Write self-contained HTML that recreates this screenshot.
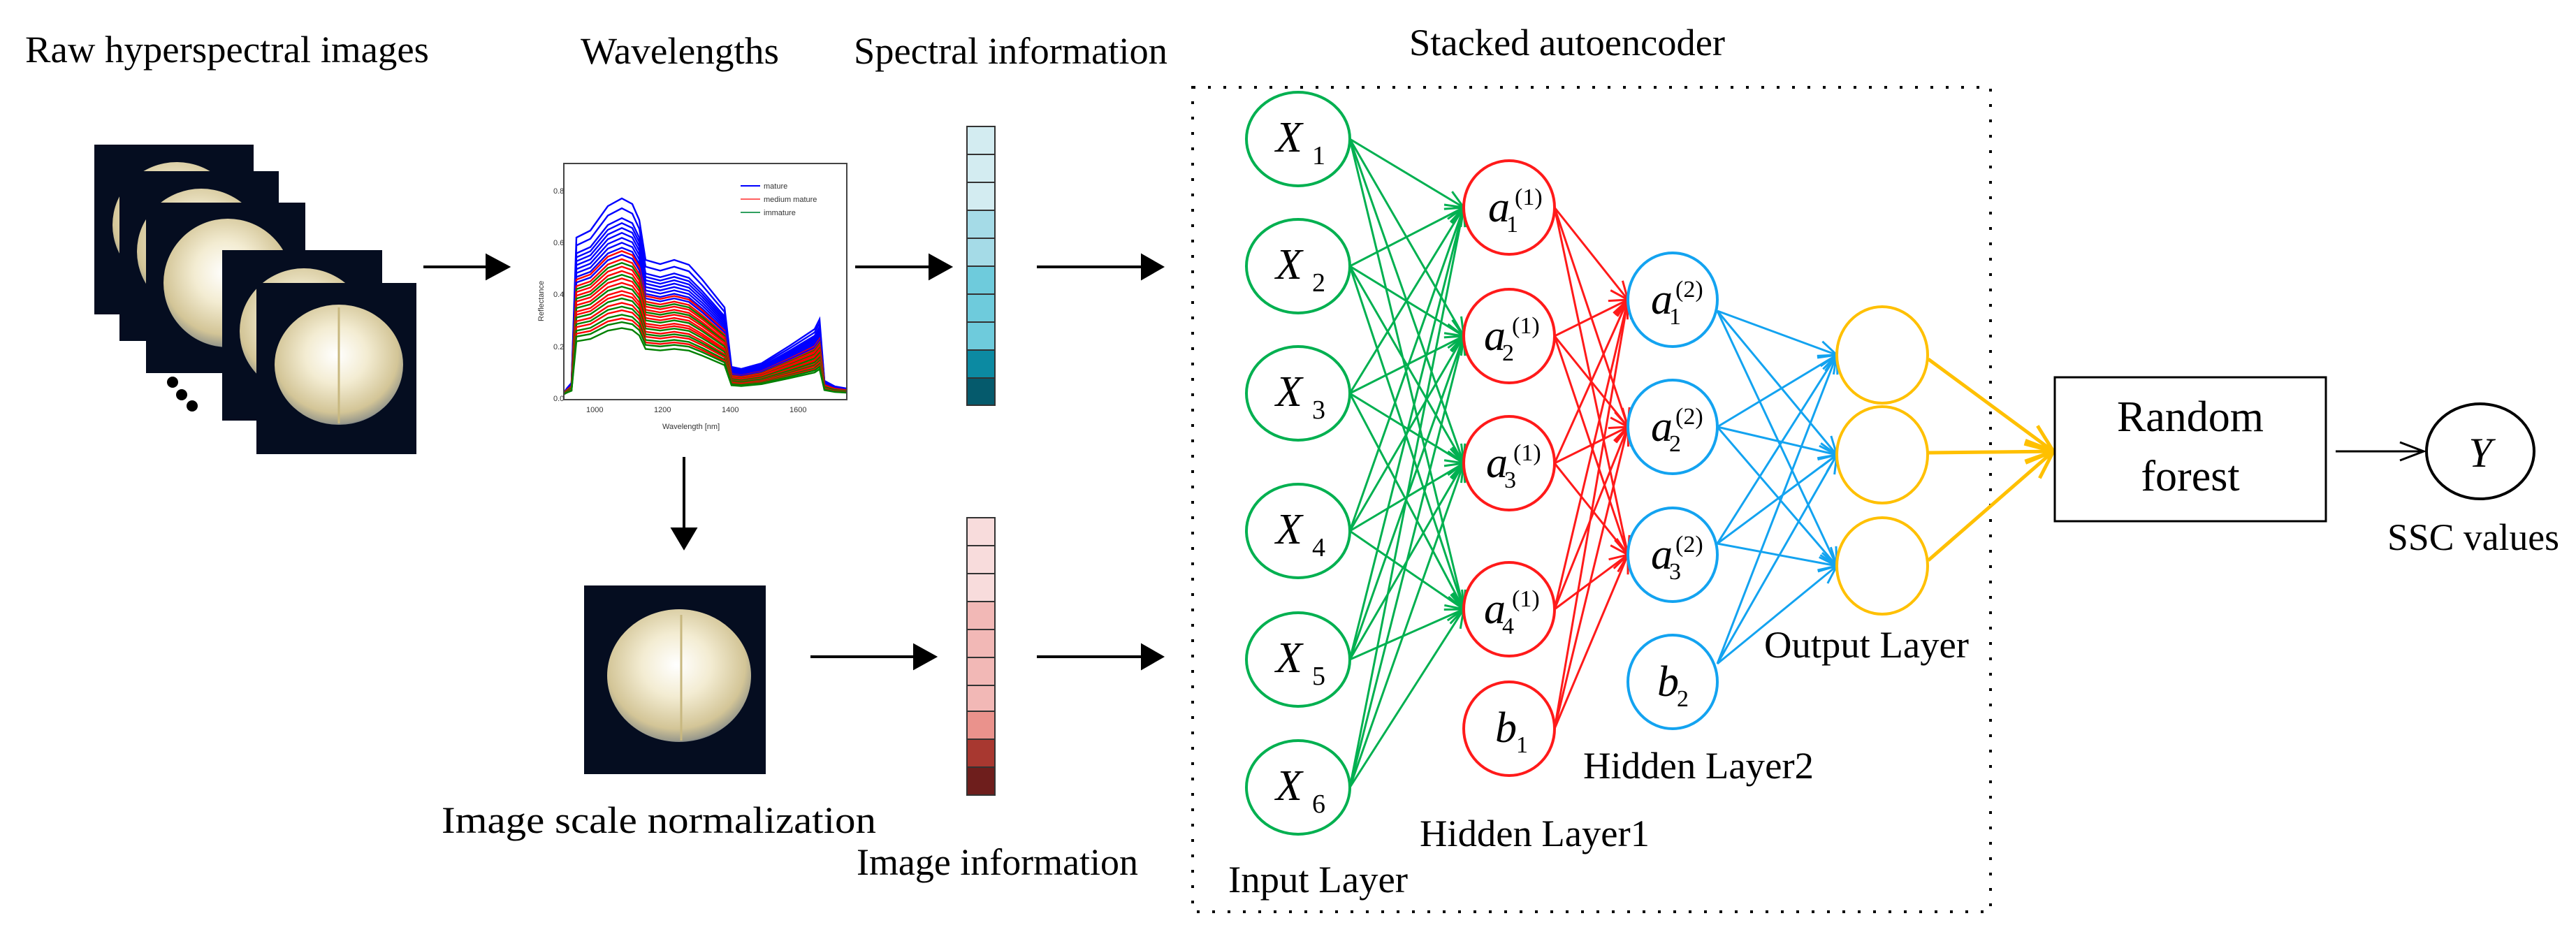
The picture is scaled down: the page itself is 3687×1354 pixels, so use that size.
<!DOCTYPE html>
<html><head><meta charset="utf-8"><style>html,body{margin:0;padding:0;background:#fff}svg{display:block}</style></head><body>
<svg width="3687" height="1354" viewBox="0 0 3687 1354" xmlns="http://www.w3.org/2000/svg" font-family="'Liberation Serif', serif">
<defs>
<radialGradient id="fr" cx="0.48" cy="0.42" r="0.6">
<stop offset="0" stop-color="#ffffff"/><stop offset="0.4" stop-color="#f3ecd2"/><stop offset="0.8" stop-color="#d3c597"/><stop offset="0.95" stop-color="#9a9a8c"/><stop offset="1" stop-color="#5d6a80"/></radialGradient>
<marker id="mg" markerUnits="userSpaceOnUse" markerWidth="40" markerHeight="40" refX="30" refY="20" orient="auto"><path d="M4,9 L30,20 L4,31" fill="none" stroke="#00b050" stroke-width="3"/></marker>
<marker id="mr" markerUnits="userSpaceOnUse" markerWidth="40" markerHeight="40" refX="30" refY="20" orient="auto"><path d="M4,9 L30,20 L4,31" fill="none" stroke="#ff1a1a" stroke-width="3"/></marker>
<marker id="mb" markerUnits="userSpaceOnUse" markerWidth="40" markerHeight="40" refX="30" refY="20" orient="auto"><path d="M4,9 L30,20 L4,31" fill="none" stroke="#13a3f0" stroke-width="3"/></marker>
<marker id="my" markerUnits="userSpaceOnUse" markerWidth="60" markerHeight="60" refX="45" refY="30" orient="auto"><path d="M5,14 L45,30 L5,46" fill="none" stroke="#ffc000" stroke-width="5"/></marker>
<marker id="mk" markerUnits="userSpaceOnUse" markerWidth="50" markerHeight="50" refX="40" refY="25" orient="auto"><path d="M6,12 L40,25 L6,38" fill="none" stroke="#000" stroke-width="3"/></marker>
<path id="cv" d="M807,562 L812,555 L818,548 L825,340 L845,330 L870,295 L890,284 L905,292 L915,315 L924,372 L945,378 L965,372 L986,379 L1005,400 L1037,440 L1047,525 L1061,528 L1090,520 L1130,495 L1166,471 L1173,457 L1180,545 L1195,553 L1212,556" fill="none" vector-effect="non-scaling-stroke"/>
</defs>

<g font-size="54" fill="#000">
<text x="36" y="89" textLength="578" lengthAdjust="spacingAndGlyphs">Raw hyperspectral images</text>
<text x="831" y="91" textLength="284" lengthAdjust="spacingAndGlyphs">Wavelengths</text>
<text x="1222" y="91" textLength="449" lengthAdjust="spacingAndGlyphs">Spectral information</text>
<text x="2017" y="79" textLength="452" lengthAdjust="spacingAndGlyphs">Stacked autoencoder</text>
<text x="632" y="1192" textLength="622" lengthAdjust="spacingAndGlyphs">Image scale normalization</text>
<text x="1226" y="1252" textLength="403" lengthAdjust="spacingAndGlyphs">Image information</text>
<text x="1758" y="1277" textLength="257" lengthAdjust="spacingAndGlyphs">Input Layer</text>
<text x="2032" y="1211" textLength="329" lengthAdjust="spacingAndGlyphs">Hidden Layer1</text>
<text x="2266" y="1114" textLength="330" lengthAdjust="spacingAndGlyphs">Hidden Layer2</text>
<text x="2525" y="941" textLength="293" lengthAdjust="spacingAndGlyphs">Output Layer</text>
<text x="3417" y="787" textLength="246" lengthAdjust="spacingAndGlyphs">SSC values</text>
</g>

<g>
<rect x="135" y="207" width="228" height="243" fill="#050d20"/><ellipse cx="253" cy="322" rx="92" ry="90" fill="url(#fr)"/>
<rect x="171" y="245" width="228" height="243" fill="#050d20"/><ellipse cx="288" cy="360" rx="92" ry="90" fill="url(#fr)"/>
<rect x="209" y="290" width="228" height="244" fill="#050d20"/><ellipse cx="326" cy="405" rx="92" ry="92" fill="url(#fr)"/>
<rect x="318" y="358" width="229" height="244" fill="#050d20"/><ellipse cx="435" cy="474" rx="92" ry="90" fill="url(#fr)"/>
<rect x="367" y="405" width="229" height="245" fill="#050d20"/><ellipse cx="485" cy="522" rx="92" ry="86" fill="url(#fr)"/>
<line x1="485" y1="440" x2="485" y2="606" stroke="#c8b880" stroke-width="3"/>
<circle cx="247" cy="547" r="8"/><circle cx="260" cy="565" r="8"/><circle cx="275" cy="581" r="8"/>
</g>

<g>
<rect x="807" y="234" width="405" height="338" fill="#fff" stroke="#444" stroke-width="2"/>
<g stroke-width="2.4">
<use href="#cv" stroke="#0000ff"/>
<use href="#cv" stroke="#0000ff" transform="translate(0,28.3) scale(1,0.95)"/>
<use href="#cv" stroke="#0000ff" transform="translate(0,56.6) scale(1,0.9)"/>
<use href="#cv" stroke="#0000ff" transform="translate(0,70.8) scale(1,0.875)"/>
<use href="#cv" stroke="#0000ff" transform="translate(0,84.9) scale(1,0.85)"/>
<use href="#cv" stroke="#0000ff" transform="translate(0,99) scale(1,0.825)"/>
<use href="#cv" stroke="#0000ff" transform="translate(0,113.2) scale(1,0.8)"/>
<use href="#cv" stroke="#0000ff" transform="translate(0,127.3) scale(1,0.775)"/>
<use href="#cv" stroke="#0000ff" transform="translate(0,141.5) scale(1,0.75)"/>
<use href="#cv" stroke="#ff0000" transform="translate(0,152) scale(1,0.73)"/>
<use href="#cv" stroke="#0000ff" transform="translate(0,163) scale(1,0.71)"/>
<use href="#cv" stroke="#ff0000" transform="translate(0,175) scale(1,0.69)"/>
<use href="#cv" stroke="#008000" transform="translate(0,186) scale(1,0.67)"/>
<use href="#cv" stroke="#ff0000" transform="translate(0,197) scale(1,0.65)"/>
<use href="#cv" stroke="#ff0000" transform="translate(0,209) scale(1,0.63)"/>
<use href="#cv" stroke="#008000" transform="translate(0,220) scale(1,0.61)"/>
<use href="#cv" stroke="#ff0000" transform="translate(0,231) scale(1,0.59)"/>
<use href="#cv" stroke="#ff0000" transform="translate(0,243) scale(1,0.57)"/>
<use href="#cv" stroke="#008000" transform="translate(0,254) scale(1,0.55)"/>
<use href="#cv" stroke="#ff0000" transform="translate(0,266) scale(1,0.53)"/>
<use href="#cv" stroke="#ff0000" transform="translate(0,277) scale(1,0.51)"/>
<use href="#cv" stroke="#008000" transform="translate(0,288) scale(1,0.49)"/>
<use href="#cv" stroke="#ff0000" transform="translate(0,300) scale(1,0.47)"/>
<use href="#cv" stroke="#008000" transform="translate(0,311) scale(1,0.45)"/>
<use href="#cv" stroke="#ff0000" transform="translate(0,322) scale(1,0.43)"/>
<use href="#cv" stroke="#008000" transform="translate(0,334) scale(1,0.41)"/>
<use href="#cv" stroke="#ff0000" transform="translate(0,345) scale(1,0.39)"/>
<use href="#cv" stroke="#008000" transform="translate(0,356) scale(1,0.37)"/>
<use href="#cv" stroke="#008000" transform="translate(0,373) scale(1,0.34)"/>
</g>
<line x1="1060" y1="266" x2="1088" y2="266" stroke="#0000ff" stroke-width="2"/>
<line x1="1060" y1="285" x2="1088" y2="285" stroke="#ff6060" stroke-width="2"/>
<line x1="1060" y1="304" x2="1088" y2="304" stroke="#30a060" stroke-width="2"/>
<g font-family="'Liberation Sans', sans-serif" font-size="11" fill="#333">
<text x="1093" y="270">mature</text><text x="1093" y="289">medium mature</text><text x="1093" y="308">immature</text>
<text x="839" y="590">1000</text><text x="936" y="590">1200</text><text x="1033" y="590">1400</text><text x="1130" y="590">1600</text>
<text x="948" y="614">Wavelength [nm]</text>
<text x="792" y="574">0.0</text><text x="792" y="500">0.2</text><text x="792" y="425">0.4</text><text x="792" y="351">0.6</text><text x="792" y="277">0.8</text>
<text transform="translate(778,460) rotate(-90)">Reflectance</text>
</g>
</g>
<rect x="807" y="234" width="405" height="338" fill="none" stroke="#444" stroke-width="2"/>

<rect x="836" y="838" width="260" height="270" fill="#050d20"/>
<ellipse cx="972" cy="967" rx="103" ry="95" fill="url(#fr)"/>
<line x1="975" y1="880" x2="975" y2="1060" stroke="#c8b880" stroke-width="3"/>

<g stroke="#000" stroke-width="4" fill="#000">
<line x1="606" y1="382" x2="700" y2="382"/><path d="M697,366 L727,382 L697,398Z"/>
<line x1="1224" y1="382" x2="1334" y2="382"/><path d="M1331,366 L1360,382 L1331,398Z"/>
<line x1="1484" y1="382" x2="1638" y2="382"/><path d="M1635,366 L1663,382 L1635,398Z"/>
<line x1="1160" y1="940" x2="1312" y2="940"/><path d="M1309,924 L1338,940 L1309,956Z"/>
<line x1="1484" y1="940" x2="1638" y2="940"/><path d="M1635,924 L1663,940 L1635,956Z"/>
<line x1="979" y1="654" x2="979" y2="760"/><path d="M963,757 L979,784 L995,757Z"/>
</g>

<g stroke="#333" stroke-width="2">
<rect x="1384" y="181" width="40" height="40" fill="#d3ecf1"/><rect x="1384" y="221" width="40" height="40" fill="#d3ecf1"/><rect x="1384" y="261" width="40" height="40" fill="#d3ecf1"/>
<rect x="1384" y="301" width="40" height="40" fill="#a5dbe7"/><rect x="1384" y="341" width="40" height="40" fill="#a5dbe7"/>
<rect x="1384" y="381" width="40" height="40" fill="#6ecbdc"/><rect x="1384" y="421" width="40" height="40" fill="#6ecbdc"/><rect x="1384" y="461" width="40" height="40" fill="#6ecbdc"/>
<rect x="1384" y="501" width="40" height="40" fill="#0c8aa2"/><rect x="1384" y="541" width="40" height="39" fill="#055a6c"/>
<rect x="1384" y="741" width="40" height="40" fill="#f8dcdc"/><rect x="1384" y="781" width="40" height="40" fill="#f8dcdc"/><rect x="1384" y="821" width="40" height="40" fill="#f8dcdc"/>
<rect x="1384" y="861" width="40" height="40" fill="#f2b8b6"/><rect x="1384" y="901" width="40" height="40" fill="#f2b8b6"/><rect x="1384" y="941" width="40" height="40" fill="#f2b8b6"/><rect x="1384" y="981" width="40" height="37" fill="#f2b8b6"/>
<rect x="1384" y="1018" width="40" height="40" fill="#ea928c"/><rect x="1384" y="1058" width="40" height="40" fill="#a83830"/><rect x="1384" y="1098" width="40" height="40" fill="#6e1e1c"/>
</g>

<rect x="1707" y="125" width="1142" height="1180" fill="none" stroke="#000" stroke-width="4" stroke-dasharray="4 18"/>

<g stroke="#00b050" stroke-width="3" marker-end="url(#mg)">
<line x1="1932" y1="199" x2="2095" y2="297"/><line x1="1932" y1="199" x2="2095" y2="481"/><line x1="1932" y1="199" x2="2095" y2="663"/><line x1="1932" y1="199" x2="2095" y2="872"/>
<line x1="1932" y1="381" x2="2095" y2="297"/><line x1="1932" y1="381" x2="2095" y2="481"/><line x1="1932" y1="381" x2="2095" y2="663"/><line x1="1932" y1="381" x2="2095" y2="872"/>
<line x1="1932" y1="563" x2="2095" y2="297"/><line x1="1932" y1="563" x2="2095" y2="481"/><line x1="1932" y1="563" x2="2095" y2="663"/><line x1="1932" y1="563" x2="2095" y2="872"/>
<line x1="1932" y1="760" x2="2095" y2="297"/><line x1="1932" y1="760" x2="2095" y2="481"/><line x1="1932" y1="760" x2="2095" y2="663"/><line x1="1932" y1="760" x2="2095" y2="872"/>
<line x1="1932" y1="944" x2="2095" y2="297"/><line x1="1932" y1="944" x2="2095" y2="481"/><line x1="1932" y1="944" x2="2095" y2="663"/><line x1="1932" y1="944" x2="2095" y2="872"/>
<line x1="1932" y1="1127" x2="2095" y2="297"/><line x1="1932" y1="1127" x2="2095" y2="481"/><line x1="1932" y1="1127" x2="2095" y2="663"/><line x1="1932" y1="1127" x2="2095" y2="872"/>
</g>
<g stroke="#ff1a1a" stroke-width="3" marker-end="url(#mr)">
<line x1="2225" y1="297" x2="2330" y2="429"/><line x1="2225" y1="297" x2="2330" y2="611"/><line x1="2225" y1="297" x2="2330" y2="794"/>
<line x1="2225" y1="481" x2="2330" y2="429"/><line x1="2225" y1="481" x2="2330" y2="611"/><line x1="2225" y1="481" x2="2330" y2="794"/>
<line x1="2225" y1="663" x2="2330" y2="429"/><line x1="2225" y1="663" x2="2330" y2="611"/><line x1="2225" y1="663" x2="2330" y2="794"/>
<line x1="2225" y1="872" x2="2330" y2="429"/><line x1="2225" y1="872" x2="2330" y2="611"/><line x1="2225" y1="872" x2="2330" y2="794"/>
<line x1="2225" y1="1043" x2="2330" y2="429"/><line x1="2225" y1="1043" x2="2330" y2="611"/><line x1="2225" y1="1043" x2="2330" y2="794"/>
</g>
<g stroke="#13a3f0" stroke-width="3" marker-end="url(#mb)">
<line x1="2458" y1="445" x2="2629" y2="508"/><line x1="2458" y1="445" x2="2629" y2="651"/><line x1="2458" y1="445" x2="2629" y2="810"/>
<line x1="2458" y1="611" x2="2629" y2="508"/><line x1="2458" y1="611" x2="2629" y2="651"/><line x1="2458" y1="611" x2="2629" y2="810"/>
<line x1="2458" y1="778" x2="2629" y2="508"/><line x1="2458" y1="778" x2="2629" y2="651"/><line x1="2458" y1="778" x2="2629" y2="810"/>
<line x1="2458" y1="950" x2="2629" y2="508"/><line x1="2458" y1="950" x2="2629" y2="651"/><line x1="2458" y1="950" x2="2629" y2="810"/>
</g>
<g stroke="#ffc000" stroke-width="5" marker-end="url(#my)">
<line x1="2760" y1="514" x2="2939" y2="646"/><line x1="2760" y1="648" x2="2939" y2="646"/><line x1="2760" y1="802" x2="2939" y2="646"/>
</g>

<g fill="#fff" stroke-width="4">
<g stroke="#00b050">
<ellipse cx="1858" cy="199" rx="74" ry="67"/><ellipse cx="1858" cy="381" rx="74" ry="67"/><ellipse cx="1858" cy="563" rx="74" ry="67"/>
<ellipse cx="1858" cy="760" rx="74" ry="67"/><ellipse cx="1858" cy="944" rx="74" ry="67"/><ellipse cx="1858" cy="1127" rx="74" ry="67"/>
</g>
<g stroke="#ff1a1a">
<ellipse cx="2160" cy="297" rx="65" ry="67"/><ellipse cx="2160" cy="481" rx="65" ry="67"/><ellipse cx="2160" cy="663" rx="65" ry="67"/>
<ellipse cx="2160" cy="872" rx="65" ry="67"/><ellipse cx="2160" cy="1043" rx="65" ry="67"/>
</g>
<g stroke="#13a3f0">
<ellipse cx="2394" cy="429" rx="64" ry="67"/><ellipse cx="2394" cy="611" rx="64" ry="67"/><ellipse cx="2394" cy="794" rx="64" ry="67"/><ellipse cx="2394" cy="976" rx="64" ry="67"/>
</g>
<g stroke="#ffc000">
<ellipse cx="2694" cy="508" rx="65" ry="69"/><ellipse cx="2694" cy="651" rx="65" ry="69"/><ellipse cx="2694" cy="810" rx="65" ry="69"/>
</g>
</g>

<g fill="#000">
<g font-size="62" font-style="italic">
<text x="1826" y="217">X</text><text x="1826" y="399">X</text><text x="1826" y="581">X</text><text x="1826" y="778">X</text><text x="1826" y="962">X</text><text x="1826" y="1145">X</text>
</g>
<g font-size="38">
<text x="1878" y="235">1</text><text x="1878" y="417">2</text><text x="1878" y="599">3</text><text x="1878" y="796">4</text><text x="1878" y="980">5</text><text x="1878" y="1163">6</text>
</g>
<g font-size="62" font-style="italic">
<text x="2130" y="317">a</text><text x="2124" y="501">a</text><text x="2127" y="683">a</text><text x="2124" y="892">a</text><text x="2140" y="1062">b</text>
<text x="2363" y="449">a</text><text x="2363" y="631">a</text><text x="2363" y="814">a</text><text x="2372" y="996">b</text>
</g>
<g font-size="34">
<text x="2156" y="332">1</text><text x="2150" y="516">2</text><text x="2153" y="698">3</text><text x="2150" y="907">4</text><text x="2170" y="1077">1</text>
<text x="2389" y="464">1</text><text x="2389" y="646">2</text><text x="2389" y="829">3</text><text x="2400" y="1011">2</text>
<text x="2168" y="293">(1)</text><text x="2164" y="477">(1)</text><text x="2166" y="659">(1)</text><text x="2164" y="868">(1)</text>
<text x="2398" y="425">(2)</text><text x="2398" y="607">(2)</text><text x="2398" y="790">(2)</text>
</g>
</g>

<rect x="2941" y="540" width="388" height="206" fill="#fff" stroke="#000" stroke-width="3"/>
<text x="3135" y="617" font-size="62" text-anchor="middle">Random</text>
<text x="3135" y="702" font-size="62" text-anchor="middle">forest</text>
<line x1="3343" y1="646" x2="3469" y2="646" stroke="#000" stroke-width="3" marker-end="url(#mk)"/>
<ellipse cx="3550" cy="646" rx="77" ry="68" fill="#fff" stroke="#000" stroke-width="4"/>
<text x="3550" y="668" font-size="60" font-style="italic" text-anchor="middle">Y</text>
</svg>
</body></html>
